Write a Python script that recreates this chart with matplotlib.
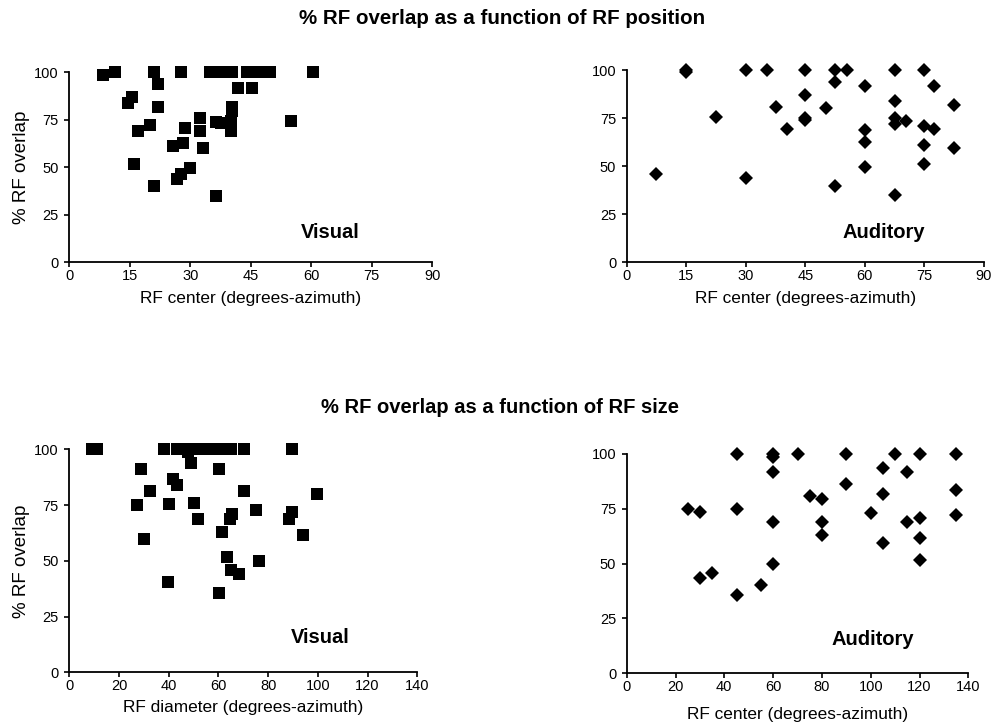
import numpy as np
import matplotlib
matplotlib.use('Agg')
import matplotlib.pyplot as plt

plt.rcParams['font.family'] = ['Liberation Sans', 'DejaVu Sans']

# RF overlap vs RF position
vis_pos_x = [8.4, 11.3, 21.1, 27.7, 34.9, 37.9, 40.4, 44.0, 45.6, 47.3, 49.8, 60.5,
             21.9, 41.9, 45.2, 15.5, 14.6, 21.9, 40.4, 40.4, 32.4, 55.0, 36.4, 37.6,
             40.0, 20.0, 28.8, 17.1, 32.4, 40.0, 25.8, 28.1, 33.1, 16.1, 29.9, 27.7,
             26.6, 21.1, 36.4]
vis_pos_y = [98.6, 100, 100, 100, 100, 100, 100, 100, 100, 100, 100, 100,
             93.9, 91.6, 91.6, 87.2, 83.7, 81.6, 81.6, 79.8, 75.8, 74.4, 74.0, 73.2,
             74.4, 72.3, 70.5, 69.3, 69.3, 69.0, 61.4, 62.6, 60.0, 51.6, 49.8, 46.3,
             43.9, 40.4, 35.1]

aud_pos_x = [15.0, 15.0, 30.0, 35.3, 45.0, 52.5, 55.4, 67.5, 75.0, 52.5, 60.0, 77.5,
             45.0, 67.5, 82.5, 37.5, 50.2, 22.5, 45.0, 45.0, 67.5, 70.3, 67.5, 75.0,
             77.5, 40.3, 60.0, 60.0, 75.0, 82.5, 60.0, 75.0, 7.5, 30.0, 52.5, 67.5]
aud_pos_y = [100, 98.8, 100, 100, 100, 100, 100, 100, 100, 93.9, 91.7, 91.7,
             87.0, 84.0, 81.8, 80.9, 80.1, 75.7, 75.2, 74.0, 74.9, 73.5, 71.8, 70.9,
             69.3, 69.3, 68.6, 62.7, 61.0, 59.6, 49.7, 51.1, 45.9, 43.7, 39.7, 35.1]

# RF overlap vs RF size
vis_size_x = [9.0, 11.0, 38.2, 43.2, 47.6, 47.9, 52.6, 55.3, 60.2, 64.9, 70.4, 89.7,
              48.9, 60.2, 28.8, 41.8, 43.2, 32.5, 70.3, 99.8, 27.1, 40.1, 50.3, 75.1,
              89.7, 65.6, 64.6, 51.9, 88.5, 61.3, 93.9, 30.2, 63.3, 76.3, 64.9, 68.4,
              39.6, 60.2]
vis_size_y = [100, 100, 100, 100, 99.0, 100, 100, 100, 100, 100, 100, 100,
              94.0, 91.2, 91.2, 86.7, 84.0, 81.3, 81.3, 80.0, 74.9, 75.3, 75.9, 72.8,
              72.1, 71.0, 68.8, 68.8, 68.8, 63.1, 61.6, 59.6, 51.9, 49.9, 45.9, 43.9,
              40.7, 35.4]

aud_size_x = [45.0, 60.0, 60.0, 70.0, 90.0, 110.0, 120.0, 135.0, 105.0, 115.0, 60.0,
              90.0, 135.0, 105.0, 75.0, 80.0, 25.0, 45.0, 30.0, 100.0, 135.0, 120.0,
              60.0, 80.0, 115.0, 80.0, 120.0, 105.0, 120.0, 60.0, 35.0, 30.0, 55.0, 45.0]
aud_size_y = [100, 100, 98.5, 100, 100, 100, 100, 100, 93.8, 91.6, 91.6,
              86.3, 83.6, 81.6, 81.0, 79.5, 74.9, 74.9, 73.7, 72.9, 72.2, 71.0,
              68.8, 68.8, 68.8, 63.1, 61.6, 59.6, 51.7, 49.7, 45.6, 43.6, 40.3, 35.7]

y_ticks = [0, 25, 50, 75, 100]


def style_axes(ax, xmax, xstep):
    ax.set_xlim(0, xmax)
    ax.set_ylim(0, 100)
    ax.set_xticks(np.arange(0, xmax + 1, xstep))
    ax.set_yticks(y_ticks)
    ax.spines['top'].set_visible(False)
    ax.spines['right'].set_visible(False)
    ax.spines['left'].set_linewidth(1.3)
    ax.spines['bottom'].set_linewidth(1.3)
    ax.tick_params(direction='out', length=3.5, width=1.2, labelsize=10.5)
    ax.tick_params(axis='x', pad=1)
    ax.tick_params(axis='y', pad=4)


fig = plt.figure(figsize=(9.91, 7.28), dpi=100)

ax1 = fig.add_axes([0.0699, 0.6397, 0.3663, 0.261])
ax2 = fig.add_axes([0.6324, 0.6397, 0.3605, 0.264])
ax3 = fig.add_axes([0.0699, 0.0765, 0.3512, 0.3063])
ax4 = fig.add_axes([0.6324, 0.0751, 0.3447, 0.3013])

ax1.plot(vis_pos_x, vis_pos_y, 's', color='black', markersize=8.3, markeredgewidth=0, clip_on=False)
ax2.plot(aud_pos_x, aud_pos_y, 'D', color='black', markersize=7, markeredgewidth=0, clip_on=False)
ax3.plot(vis_size_x, vis_size_y, 's', color='black', markersize=8.3, markeredgewidth=0, clip_on=False)
ax4.plot(aud_size_x, aud_size_y, 'D', color='black', markersize=7, markeredgewidth=0, clip_on=False)

style_axes(ax1, 90, 15)
style_axes(ax2, 90, 15)
style_axes(ax3, 140, 20)
style_axes(ax4, 140, 20)

ax1.set_xlabel('RF center (degrees-azimuth)', fontsize=12.4, labelpad=6)
ax2.set_xlabel('RF center (degrees-azimuth)', fontsize=12.4, labelpad=6)
ax3.set_xlabel('RF diameter (degrees-azimuth)', fontsize=12.4, labelpad=5)
ax4.set_xlabel('RF center (degrees-azimuth)', fontsize=12.4, labelpad=10)
ax1.set_ylabel('% RF overlap', fontsize=13.5, labelpad=3)
ax3.set_ylabel('% RF overlap', fontsize=13.5, labelpad=3)

for ax, name in [(ax1, 'Visual'), (ax2, 'Auditory'), (ax3, 'Visual'), (ax4, 'Auditory')]:
    ax.text(0.72, 0.155, name, transform=ax.transAxes, ha='center', va='center',
            fontsize=14.5, fontweight='bold')

fig.text(0.507, 0.975, '% RF overlap as a function of RF position', ha='center',
         va='center', fontsize=14.8, fontweight='bold')
fig.text(0.505, 0.44, '% RF overlap as a function of RF size', ha='center',
         va='center', fontsize=14.5, fontweight='bold')

plt.savefig('out.png', dpi=100)
